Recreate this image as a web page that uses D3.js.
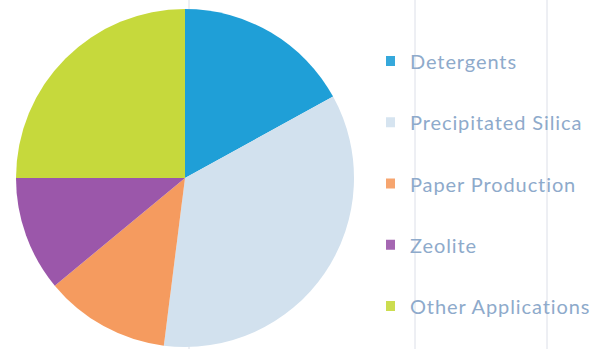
<!DOCTYPE html>
<html><head><meta charset="utf-8">
<script src="https://cdn.jsdelivr.net/npm/d3@7"></script>
<style>html,body{margin:0;padding:0;background:#fff;}svg{display:block;}</style>
</head><body>
<svg id="chart" width="590" height="349"></svg>
<script>
const categories = ["Detergents", "Precipitated Silica", "Paper Production", "Zeolite", "Other Applications"];
const values = [17, 35, 12, 11, 25];
const colors = ["#1f9fd7", "#d2e1ee", "#f59b5f", "#9b57aa", "#c6d93c"];

const svg = d3.select("#chart");
const cx = 185, cy = 178, r = 169;

// faint scan lines
svg.selectAll("line.scan").data([189, 415, 547]).join("line")
  .attr("class","scan").attr("x1", d=>d).attr("x2", d=>d).attr("y1",0).attr("y2",349)
  .attr("stroke","#dcdfe8").attr("stroke-width",1);

const pie = d3.pie().sort(null).value(d => d.v);
const arc = d3.arc().innerRadius(0).outerRadius(r);
const data = categories.map((c,i)=>({c, v: values[i], col: colors[i]}));

svg.append("g").attr("transform", `translate(${cx},${cy})`)
  .selectAll("path").data(pie(data)).join("path")
  .attr("d", arc).attr("fill", d => d.data.col);

const ly = d3.scalePoint().domain(categories).range([62, 307]);
const lg = svg.append("g");
lg.selectAll("rect").data(data).join("rect")
  .attr("x", 386).attr("y", d => ly(d.c) - 6).attr("width", 9).attr("height", 10)
  .attr("fill", d => d.col).attr("opacity", 0.9);
lg.selectAll("text").data(data).join("text")
  .attr("x", 410).attr("y", d => ly(d.c) + 7)
  .attr("font-family", "Lato, 'Open Sans', sans-serif")
  .attr("font-size", 20).attr("font-weight", 400)
  .attr("letter-spacing", 0.9)
  .attr("fill", "#8eaacb")
  .text(d => d.c);
</script>
</body></html>
